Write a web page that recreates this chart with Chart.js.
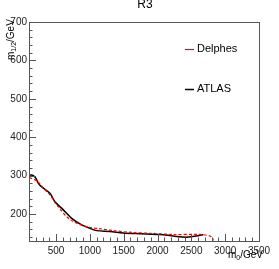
<!DOCTYPE html>
<html>
<head>
<meta charset="utf-8">
<script src="https://cdn.jsdelivr.net/npm/chart.js@4"></script>
<style>
  html, body { margin: 0; padding: 0; background: #fff; }
  #wrap { width: 279px; height: 269px; }
</style>
</head>
<body>
<div id="wrap"><canvas id="c" width="279" height="269"></canvas></div>
<script>
// exclusion contours, m0 vs m1/2 (GeV)
const atlasM0   = [115, 164, 203, 238, 287, 410, 484, 607, 731, 879, 1001, 1100, 1297, 1494, 1740, 2036, 2233, 2430, 2676];
const atlasM12  = [302, 300, 293, 280, 271, 254, 232, 211, 189, 172, 163, 157, 155, 151, 149, 147, 143, 140, 146];
const delphesM0  = [105, 213, 300, 410, 509, 706, 953, 1149, 1346, 1642, 1900, 2233, 2627, 2775, 2815, 2825];
const delphesM12 = [295, 287, 270, 250, 224, 186, 167, 162, 157, 152, 150, 147, 147, 143, 137, 131];
const xTicks = [500, 1000, 1500, 2000, 2500, 3000, 3500];
const yTicks = [200, 300, 400, 500, 600, 700];

const pts = (xs, ys) => xs.map((x, i) => ({x: x, y: ys[i]}));
const FONT = "Liberation Sans, Arial, sans-serif";

// ROOT style ticks drawn inside the frame, plus texts
const rootStyle = {
  id: 'rootStyle',
  afterDraw(chart) {
    const ctx = chart.ctx, a = chart.chartArea;
    const xs = chart.scales.x, ys = chart.scales.y;
    ctx.save();
    ctx.strokeStyle = '#555';
    ctx.lineWidth = 1;
    ctx.beginPath();
    for (let v = 100; v <= 3500; v += 100) {
      const px = Math.round(xs.getPixelForValue(v)) + 0.5;
      const len = v % 500 === 0 ? 7 : 3.5;
      ctx.moveTo(px, a.bottom);
      ctx.lineTo(px, a.bottom - len);
    }
    for (let v = 140; v <= 700; v += 20) {
      const py = Math.round(ys.getPixelForValue(v)) + 0.5;
      const len = v % 100 === 0 ? 7 : 3.5;
      ctx.moveTo(a.left, py);
      ctx.lineTo(a.left + len, py);
    }
    ctx.stroke();

    ctx.fillStyle = '#000';
    // title
    ctx.font = '12px ' + FONT;
    ctx.textAlign = 'center';
    ctx.textBaseline = 'middle';
    ctx.fillText('R3', 145, 5);

    // x title
    ctx.textBaseline = 'alphabetic';
    ctx.textAlign = 'left';
    ctx.font = '10px ' + FONT;
    let x = 228;
    ctx.fillText('m', x, 258);
    x += ctx.measureText('m').width;
    ctx.font = '7px ' + FONT;
    ctx.fillText('0', x, 260);
    x += ctx.measureText('0').width;
    ctx.font = '10px ' + FONT;
    ctx.fillText('/GeV', x, 258);

    // y title, rotated
    ctx.save();
    ctx.translate(14, 60);
    ctx.rotate(-Math.PI / 2);
    let t = 0;
    ctx.font = '10px ' + FONT;
    ctx.fillText('m', t, 0);
    t += ctx.measureText('m').width;
    ctx.font = '7px ' + FONT;
    ctx.fillText('1/2', t, 2);
    t += ctx.measureText('1/2').width;
    ctx.font = '10px ' + FONT;
    ctx.fillText('/GeV', t, 0);
    ctx.restore();

    // legend
    const leg = [['Delphes', '#ff0000', 49], ['ATLAS', '#000000', 89]];
    ctx.font = '11px ' + FONT;
    ctx.textBaseline = 'middle';
    leg.forEach(l => {
      ctx.strokeStyle = l[1];
      ctx.lineWidth = l[1] === '#000000' ? 1.5 : 1.2;
      ctx.beginPath();
      ctx.moveTo(185, l[2] + 0.5);
      ctx.lineTo(194, l[2] + 0.5);
      ctx.stroke();
      ctx.fillStyle = '#000';
      ctx.fillText(l[0], 197, l[2]);
    });
    ctx.restore();
  }
};

new Chart(document.getElementById('c'), {
  type: 'scatter',
  data: {
    datasets: [
      {
        label: 'Delphes',
        data: pts(delphesM0, delphesM12),
        showLine: true,
        borderColor: '#ff0000',
        borderWidth: 1.2,
        borderDash: [3, 2],
        pointRadius: 0,
        tension: 0.3
      },
      {
        label: 'ATLAS',
        data: pts(atlasM0, atlasM12),
        showLine: true,
        borderColor: '#000000',
        borderWidth: 1.5,
        pointRadius: 0,
        tension: 0.3
      }
    ]
  },
  options: {
    responsive: false,
    animation: false,
    layout: { padding: { top: 22, right: 20, left: 0, bottom: 0 } },
    plugins: { legend: { display: false }, title: { display: false }, tooltip: { enabled: false } },
    scales: {
      x: {
        type: 'linear',
        min: 100, max: 3500,
        afterBuildTicks: s => { s.ticks = xTicks.map(v => ({value: v})); },
        afterFit: s => { s.height = 28; },
        grid: { display: false, drawTicks: false },
        border: { color: '#555', width: 1 },
        ticks: { color: '#222', font: { size: 10, family: FONT }, padding: 4, maxRotation: 0, callback: v => String(v) }
      },
      y: {
        type: 'linear',
        min: 130, max: 700,
        afterBuildTicks: s => { s.ticks = yTicks.map(v => ({value: v})); },
        afterFit: s => { s.width = 29; },
        grid: { display: false, drawTicks: false },
        border: { color: '#555', width: 1 },
        ticks: { color: '#222', font: { size: 10, family: FONT }, padding: 2, callback: v => String(v) }
      },
      x2: {
        type: 'linear', position: 'top', display: true,
        min: 100, max: 3500,
        afterFit: s => { s.height = 0; },
        grid: { display: false, drawTicks: false },
        border: { color: '#555', width: 1 },
        ticks: { display: false }
      },
      y2: {
        type: 'linear', position: 'right', display: true,
        min: 130, max: 700,
        afterFit: s => { s.width = 0; },
        grid: { display: false, drawTicks: false },
        border: { color: '#555', width: 1 },
        ticks: { display: false }
      }
    }
  },
  plugins: [rootStyle]
});
</script>
</body>
</html>
